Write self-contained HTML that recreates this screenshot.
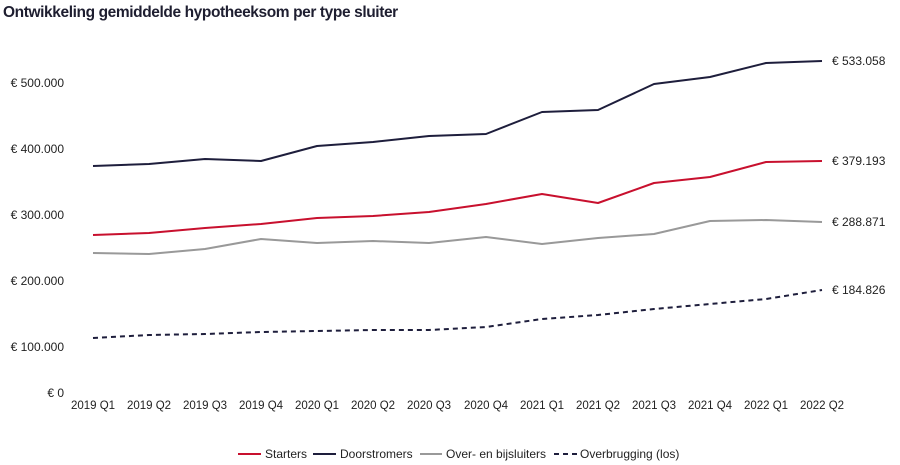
<!DOCTYPE html>
<html><head><meta charset="utf-8"><style>
body{margin:0;background:#fff;}
svg{display:block;font-family:"Liberation Sans",sans-serif;}
</style></head><body>
<svg width="900" height="465" viewBox="0 0 900 465">
<text x="3" y="17" font-size="15.5" font-weight="bold" fill="#1e1e30" letter-spacing="-0.4">Ontwikkeling gemiddelde hypotheeksom per type sluiter</text>
<g font-size="12" fill="#222" text-anchor="end">
<text x="64" y="87">€ 500.000</text>
<text x="64" y="153">€ 400.000</text>
<text x="64" y="219">€ 300.000</text>
<text x="64" y="285">€ 200.000</text>
<text x="64" y="351">€ 100.000</text>
<text x="64" y="397">€ 0</text>
</g>
<g font-size="11.5" fill="#222" text-anchor="middle">
<text x="93" y="409">2019 Q1</text><text x="149" y="409">2019 Q2</text><text x="205" y="409">2019 Q3</text><text x="261" y="409">2019 Q4</text><text x="317" y="409">2020 Q1</text><text x="373" y="409">2020 Q2</text><text x="429" y="409">2020 Q3</text><text x="486" y="409">2020 Q4</text><text x="542" y="409">2021 Q1</text><text x="598" y="409">2021 Q2</text><text x="654" y="409">2021 Q3</text><text x="710" y="409">2021 Q4</text><text x="766" y="409">2022 Q1</text><text x="822" y="409">2022 Q2</text>
</g>
<g fill="none" stroke-width="2" stroke-linejoin="round">
<polyline stroke="#1e1e3c" points="93,166 149,164 205,159 261,161 317,146 373,142 429,136 486,134 542,112 598,110 654,84 710,77 766,63 822,61"/>
<polyline stroke="#c8102e" points="93,235 149,233 205,228 261,224 317,218 373,216 429,212 486,204 542,194 598,203 654,183 710,177 766,162 822,161"/>
<polyline stroke="#999" points="93,253 149,254 205,249 261,239 317,243 373,241 429,243 486,237 542,244 598,238 654,234 710,221 766,220 822,222"/>
<polyline stroke="#1e1e3c" stroke-dasharray="5,4" points="93,338 149,335 205,334 261,332 317,331 373,330 429,330 486,327 542,319 598,315 654,309 710,304 766,299 822,290"/>
</g>
<g font-size="12" fill="#222">
<text x="832" y="65">€ 533.058</text>
<text x="832" y="165">€ 379.193</text>
<text x="832" y="226">€ 288.871</text>
<text x="832" y="294">€ 184.826</text>
</g>
<g font-size="12" fill="#222">
<line x1="238" y1="454" x2="261" y2="454" stroke="#c8102e" stroke-width="2"/><text x="265" y="458">Starters</text>
<line x1="313" y1="454" x2="336" y2="454" stroke="#1e1e3c" stroke-width="2"/><text x="340" y="458">Doorstromers</text>
<line x1="420" y1="454" x2="442" y2="454" stroke="#999" stroke-width="2"/><text x="446" y="458">Over- en bijsluiters</text>
<line x1="554" y1="454" x2="577" y2="454" stroke="#1e1e3c" stroke-width="2" stroke-dasharray="5,4"/><text x="580" y="458">Overbrugging (los)</text>
</g>
</svg>
</body></html>
